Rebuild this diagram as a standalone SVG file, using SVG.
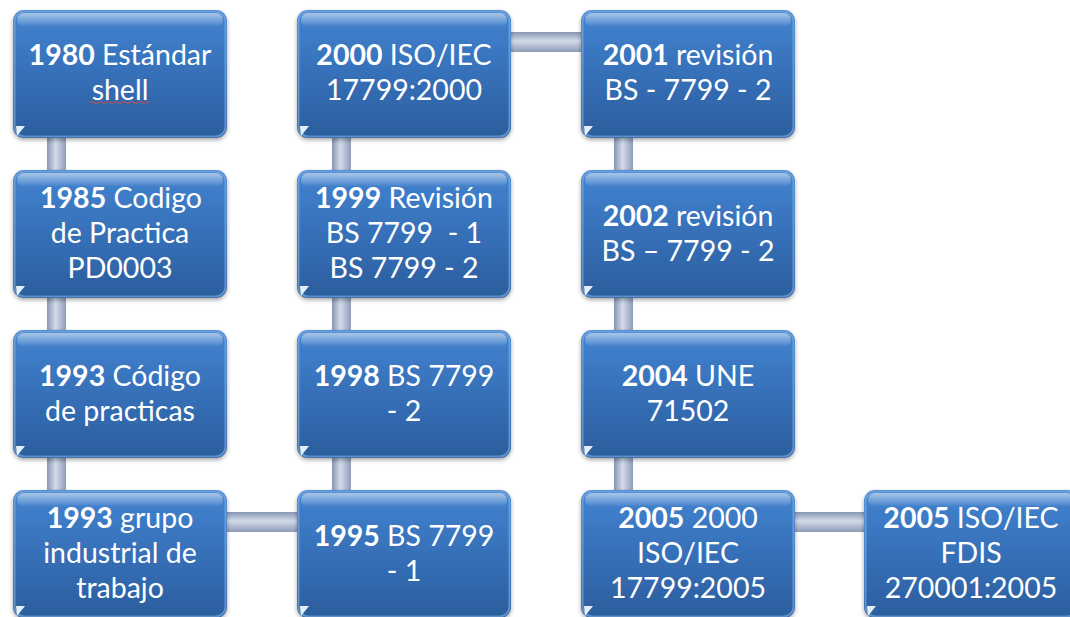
<svg xmlns="http://www.w3.org/2000/svg" width="1070" height="617" viewBox="0 0 1070 617">
  <defs>
    <linearGradient id="boxFill" x1="0" y1="0" x2="0" y2="1">
      <stop offset="0" stop-color="#4283d0"/>
      <stop offset="0.5" stop-color="#3670b8"/>
      <stop offset="1" stop-color="#2b5d9d"/>
    </linearGradient>
    <linearGradient id="gloss" x1="0" y1="0" x2="0" y2="1">
      <stop offset="0" stop-color="#ffffff" stop-opacity="0.55"/>
      <stop offset="1" stop-color="#ffffff" stop-opacity="0"/>
    </linearGradient>
    <linearGradient id="barV" x1="0" y1="0" x2="1" y2="0">
      <stop offset="0" stop-color="#8796b2"/>
      <stop offset="0.45" stop-color="#d3dbea"/>
      <stop offset="1" stop-color="#8e9cb8"/>
    </linearGradient>
    <linearGradient id="barH" x1="0" y1="0" x2="0" y2="1">
      <stop offset="0" stop-color="#8796b2"/>
      <stop offset="0.45" stop-color="#d3dbea"/>
      <stop offset="1" stop-color="#8e9cb8"/>
    </linearGradient>
    <filter id="shadow" x="-10%" y="-10%" width="120%" height="130%">
      <feDropShadow dx="0" dy="2" stdDeviation="2" flood-color="#000" flood-opacity="0.35"/>
    </filter>
    <!-- reusable glossy box, 214 x 128 -->
    <g id="box">
      <rect x="0" y="0" width="214" height="128" rx="11" fill="url(#boxFill)" filter="url(#shadow)"/>
      <rect x="1.5" y="1.5" width="211" height="125" rx="10" fill="none" stroke="#8db8ea" stroke-opacity="0.55" stroke-width="2"/>
      <rect x="4" y="3" width="206" height="14" rx="7" fill="url(#gloss)"/>
      <polygon points="3,116 12,116 4,126" fill="#e3eef9"/>
    </g>
    <style>
      .t { font-family: Lato, "Open Sans", "Liberation Sans", sans-serif; font-size: 28.5px; fill: #ffffff; text-anchor: middle; }
      .b { font-weight: bold; }
    </style>
  </defs>

  <rect width="1070" height="617" fill="#ffffff"/>

  <!-- connectors -->
  <g id="connectors">
    <rect x="47" y="74" width="19" height="480" fill="url(#barV)"/>
    <rect x="120" y="512" width="284" height="20" fill="url(#barH)"/>
    <rect x="332" y="74" width="19" height="480" fill="url(#barV)"/>
    <rect x="404" y="32" width="284" height="20" fill="url(#barH)"/>
    <rect x="614" y="74" width="19" height="480" fill="url(#barV)"/>
    <rect x="688" y="512" width="283" height="20" fill="url(#barH)"/>
  </g>

  <!-- column 1 -->
  <g id="n1980">
    <use href="#box" x="13" y="10"/>
    <text class="t" x="120" y="65"><tspan class="b">1980</tspan> Estándar</text>
    <text class="t" x="120" y="100">shell</text>
    <path d="M90,102.5 q2,-2 4,0 t4,0 t4,0 t4,0 t4,0 t4,0 t4,0 t4,0 t4,0 t4,0 t4,0 t4,0 t4,0 t4,0 t4,0" fill="none" stroke="#d04a4a" stroke-width="1"/>
  </g>
  <g id="n1985">
    <use href="#box" x="13" y="170"/>
    <text class="t" x="121" y="208"><tspan class="b">1985</tspan> Codigo</text>
    <text class="t" x="120" y="243">de Practica</text>
    <text class="t" x="120" y="278">PD0003</text>
  </g>
  <g id="n1993a">
    <use href="#box" x="13" y="330"/>
    <text class="t" x="120" y="386"><tspan class="b">1993</tspan> Código</text>
    <text class="t" x="120" y="421">de practicas</text>
  </g>
  <g id="n1993b">
    <use href="#box" x="13" y="490"/>
    <text class="t" x="120" y="528"><tspan class="b">1993</tspan> grupo</text>
    <text class="t" x="120" y="563">industrial de</text>
    <text class="t" x="120" y="598">trabajo</text>
  </g>

  <!-- column 2 -->
  <g id="n2000">
    <use href="#box" x="297" y="10"/>
    <text class="t" x="404" y="65"><tspan class="b">2000</tspan> ISO/IEC</text>
    <text class="t" x="404" y="100">17799:2000</text>
  </g>
  <g id="n1999">
    <use href="#box" x="297" y="170"/>
    <text class="t" x="404" y="208"><tspan class="b">1999</tspan> Revisión</text>
    <text class="t" x="404" y="243" xml:space="preserve">BS 7799  - 1</text>
    <text class="t" x="404" y="278">BS 7799 - 2</text>
  </g>
  <g id="n1998">
    <use href="#box" x="297" y="330"/>
    <text class="t" x="404" y="386"><tspan class="b">1998</tspan> BS 7799</text>
    <text class="t" x="404" y="421">- 2</text>
  </g>
  <g id="n1995">
    <use href="#box" x="297" y="490"/>
    <text class="t" x="404" y="546"><tspan class="b">1995</tspan> BS 7799</text>
    <text class="t" x="404" y="581">- 1</text>
  </g>

  <!-- column 3 -->
  <g id="n2001">
    <use href="#box" x="581" y="10"/>
    <text class="t" x="688" y="65"><tspan class="b">2001</tspan> revisión</text>
    <text class="t" x="688" y="100">BS - 7799 - 2</text>
  </g>
  <g id="n2002">
    <use href="#box" x="581" y="170"/>
    <text class="t" x="688" y="226"><tspan class="b">2002</tspan> revisión</text>
    <text class="t" x="688" y="261">BS – 7799 - 2</text>
  </g>
  <g id="n2004">
    <use href="#box" x="581" y="330"/>
    <text class="t" x="688" y="386"><tspan class="b">2004</tspan> UNE</text>
    <text class="t" x="688" y="421">71502</text>
  </g>
  <g id="n2005a">
    <use href="#box" x="581" y="490"/>
    <text class="t" x="688" y="528"><tspan class="b">2005</tspan> 2000</text>
    <text class="t" x="688" y="563">ISO/IEC</text>
    <text class="t" x="688" y="598">17799:2005</text>
  </g>

  <!-- column 4 -->
  <g id="n2005b">
    <use href="#box" x="864" y="490"/>
    <text class="t" x="971" y="528"><tspan class="b">2005</tspan> ISO/IEC</text>
    <text class="t" x="971" y="563">FDIS</text>
    <text class="t" x="971" y="598">270001:2005</text>
  </g>
</svg>
